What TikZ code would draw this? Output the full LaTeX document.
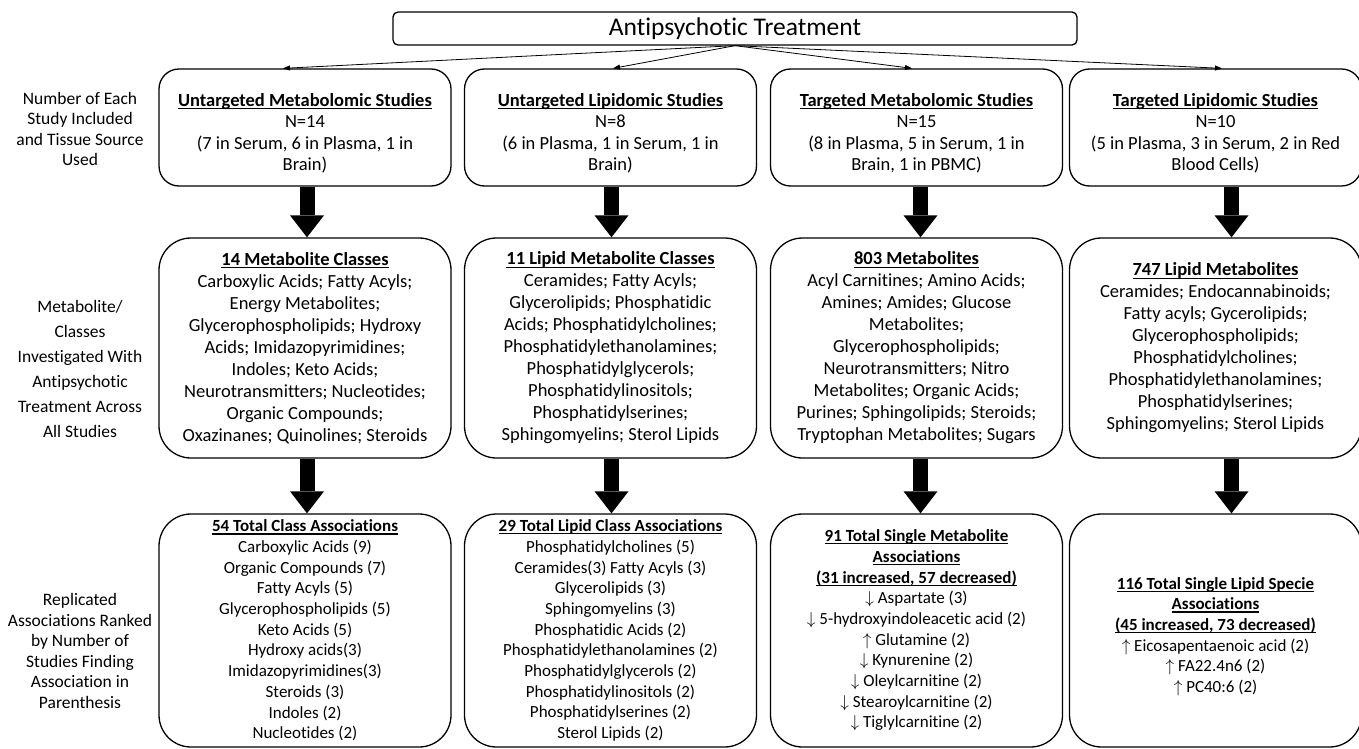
\documentclass[tikz,border=0pt]{standalone}
\usepackage{fontspec}
\setmainfont[Ligatures={NoCommon}]{Carlito}
\usetikzlibrary{arrows.meta}
\newsavebox{\hdrbox}
\newcommand{\hdr}[1]{\leavevmode\sbox{\hdrbox}{\textbf{#1}}\rlap{\rule[-2.8pt]{\wd\hdrbox}{1.1pt}}\usebox{\hdrbox}}
\newcommand{\arrdn}{$\downarrow$}
\newcommand{\arrup}{$\uparrow$}
\newcommand{\pushdown}[1]{\rule{0pt}{#1}}
\begin{document}
\begin{tikzpicture}[x=1pt,y=-1pt,
  box/.style={draw, line width=1.3pt, align=center, inner sep=0pt},
  rowone/.style={box, rounded corners=20pt, minimum width=292pt, minimum height=117pt, font=\fontsize{18.5}{21.5}\selectfont},
  rowtwo/.style={box, rounded corners=32pt, minimum width=292pt, minimum height=220pt, font=\fontsize{18.5}{22}\selectfont},
  rowthree/.style={box, rounded corners=32pt, minimum width=292pt, minimum height=233pt, font=\fontsize{17}{20.7}\selectfont},
  sidelabel/.style={align=center, font=\fontsize{17.5}{20.6}\selectfont},
  thinarrow/.style={line width=0.8pt, -{Triangle[length=7pt,width=5pt]}},
  blockarrow/.style={line width=15pt, -{Triangle[length=22pt,width=34pt,line width=0pt]}}
]
\useasboundingbox (0,0) rectangle (1359,749);

\node[draw, line width=1.3pt, rounded corners=5pt, minimum width=684pt, minimum height=33pt, inner sep=0pt,
  font=\fontsize{25.5}{28}\selectfont] (top) at (735,28.5) {Antipsychotic Treatment};

% side labels
\node[sidelabel] (l1) at (80,129) {Number of Each\\Study Included\\and Tissue Source\\Used};
\node[sidelabel, font=\fontsize{17.5}{25}\selectfont] (l2) at (80,369) {Metabolite/\\Classes\\Investigated With\\Antipsychotic\\Treatment Across\\All Studies};
\node[sidelabel] (l3) at (80,651) {Replicated\\Associations Ranked\\by Number of\\Studies Finding\\Association in\\Parenthesis};

% row 1
\node[rowone] (a1) at (305,127.5) {\pushdown{25pt}\hdr{Untargeted Metabolomic Studies}\\N=14\\(7 in Serum, 6 in Plasma, 1 in\\Brain)};
\node[rowone] (b1) at (610.5,127.5) {\pushdown{25pt}\hdr{Untargeted Lipidomic Studies}\\N=8\\(6 in Plasma, 1 in Serum, 1 in\\Brain)};
\node[rowone] (c1) at (916.5,127.5) {\pushdown{25pt}\hdr{Targeted Metabolomic Studies}\\N=15\\(8 in Plasma, 5 in Serum, 1 in\\Brain, 1 in PBMC)};
\node[rowone] (d1) at (1215.5,127.5) {\pushdown{25pt}\hdr{Targeted Lipidomic Studies}\\N=10\\(5 in Plasma, 3 in Serum, 2 in Red\\Blood Cells)};

% row 2
\node[rowtwo] (a2) at (305,348) {\hdr{14 Metabolite Classes}\\Carboxylic Acids; Fatty Acyls;\\Energy Metabolites;\\Glycerophospholipids; Hydroxy\\Acids; Imidazopyrimidines;\\Indoles; Keto Acids;\\Neurotransmitters; Nucleotides;\\Organic Compounds;\\Oxazinanes; Quinolines; Steroids};
\node[rowtwo] (b2) at (610.5,348) {\hdr{11 Lipid Metabolite Classes}\\Ceramides; Fatty Acyls;\\Glycerolipids; Phosphatidic\\Acids; Phosphatidylcholines;\\Phosphatidylethanolamines;\\Phosphatidylglycerols;\\Phosphatidylinositols;\\Phosphatidylserines;\\Sphingomyelins; Sterol Lipids};
\node[rowtwo] (c2) at (916.5,348) {\hdr{803 Metabolites}\\Acyl Carnitines; Amino Acids;\\Amines; Amides; Glucose\\Metabolites;\\Glycerophospholipids;\\Neurotransmitters; Nitro\\Metabolites; Organic Acids;\\Purines; Sphingolipids; Steroids;\\Tryptophan Metabolites; Sugars};
\node[rowtwo] (d2) at (1215.5,348) {\hdr{747 Lipid Metabolites}\\Ceramides; Endocannabinoids;\\Fatty acyls; Gycerolipids;\\Glycerophospholipids;\\Phosphatidylcholines;\\Phosphatidylethanolamines;\\Phosphatidylserines;\\Sphingomyelins; Sterol Lipids};

% row 3
\node[rowthree] (a3) at (305,630.5) {\hdr{54 Total Class Associations}\\Carboxylic Acids (9)\\Organic Compounds (7)\\Fatty Acyls (5)\\Glycerophospholipids (5)\\Keto Acids (5)\\Hydroxy acids(3)\\Imidazopyrimidines(3)\\Steroids (3)\\Indoles (2)\\Nucleotides (2)};
\node[rowthree] (b3) at (610.5,630.5) {\hdr{29 Total Lipid Class Associations}\\Phosphatidylcholines (5)\\Ceramides(3) Fatty Acyls (3)\\Glycerolipids (3)\\Sphingomyelins (3)\\Phosphatidic Acids (2)\\Phosphatidylethanolamines (2)\\Phosphatidylglycerols (2)\\Phosphatidylinositols (2)\\Phosphatidylserines (2)\\Sterol Lipids (2)};
\node[rowthree] (c3) at (916.5,630.5) {\hdr{91 Total Single Metabolite}\\\hdr{Associations}\\\hdr{(31 increased, 57 decreased)}\\\arrdn{} Aspartate (3)\\\arrdn{} 5-hydroxyindoleacetic acid (2)\\\arrup{} Glutamine (2)\\\arrdn{} Kynurenine (2)\\\arrdn{} Oleylcarnitine (2)\\\arrdn{} Stearoylcarnitine (2)\\\arrdn{} Tiglylcarnitine (2)};
\node[rowthree] (d3) at (1215.5,630.5) {\pushdown{24pt}\hdr{116 Total Single Lipid Specie}\\\hdr{Associations}\\\hdr{(45 increased, 73 decreased)}\\\arrup{} Eicosapentaenoic acid (2)\\\arrup{} FA22.4n6 (2)\\\arrup{} PC40:6 (2)};

% thin arrows from top
\draw[thinarrow] (top.south) -- ([xshift=-22pt]a1.north);
\draw[thinarrow] (top.south) -- ([xshift=2.5pt]b1.north);
\draw[thinarrow] (top.south) -- ([xshift=-4.5pt]c1.north);
\draw[thinarrow] (top.south) -- ([xshift=6.5pt]d1.north);

% block arrows
\draw[blockarrow] ([xshift=2pt]a1.south) -- ([xshift=2pt]a2.north);
\draw[blockarrow] ([xshift=1pt]b1.south) -- ([xshift=1pt]b2.north);
\draw[blockarrow] ([xshift=4pt]c1.south) -- ([xshift=4pt]c2.north);
\draw[blockarrow] ([xshift=16pt]d1.south) -- ([xshift=16pt]d2.north);
\draw[blockarrow] ([xshift=2pt]a2.south) -- ([xshift=2pt]a3.north);
\draw[blockarrow] ([xshift=1pt]b2.south) -- ([xshift=1pt]b3.north);
\draw[blockarrow] ([xshift=4pt]c2.south) -- ([xshift=4pt]c3.north);
\draw[blockarrow] ([xshift=16pt]d2.south) -- ([xshift=16pt]d3.north);
\end{tikzpicture}
\end{document}
